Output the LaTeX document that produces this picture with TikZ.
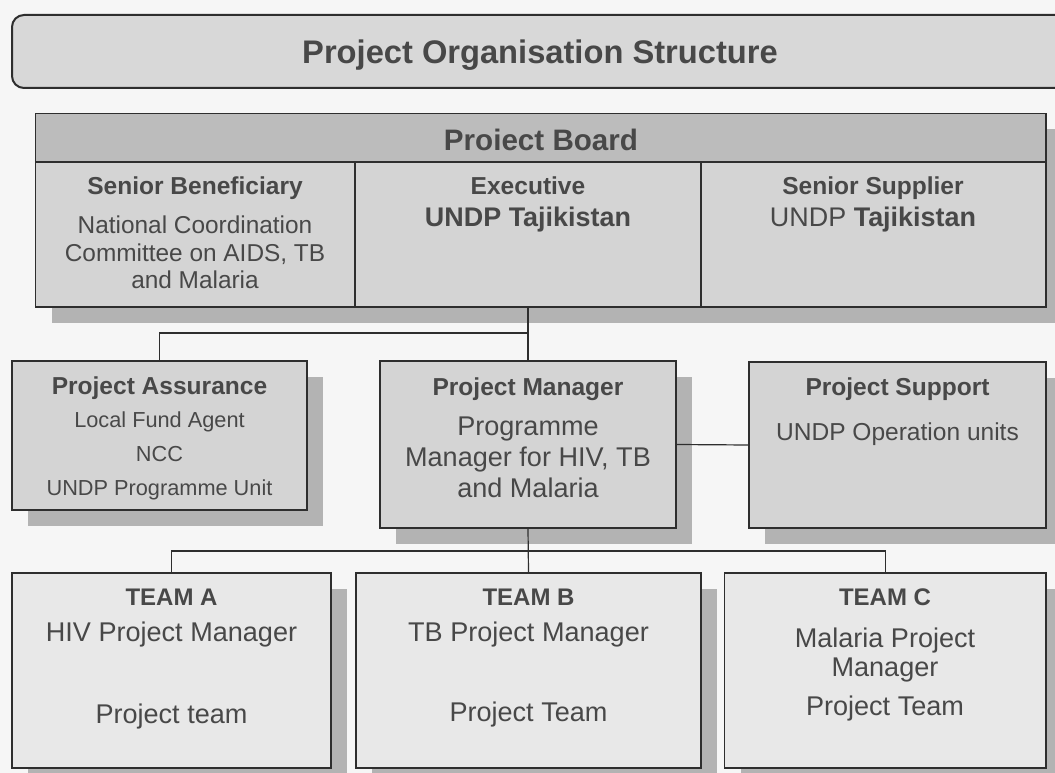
\documentclass[tikz,border=0pt]{standalone}
\usepackage{fontspec}
\setmainfont{Liberation Sans}
\usetikzlibrary{fit,shadows}

\definecolor{ink}{HTML}{484848}
\definecolor{edge}{HTML}{2E2E2E}
\definecolor{paper}{HTML}{F6F6F6}
\definecolor{titlefill}{HTML}{D8D8D8}
\definecolor{bandfill}{HTML}{BCBCBC}
\definecolor{boxfill}{HTML}{D4D4D4}
\definecolor{teamfill}{HTML}{E8E8E8}
\definecolor{shade}{HTML}{B3B3B3}

\tikzset{
  box/.style={draw=edge, line width=1pt, fill=boxfill, inner sep=0pt},
  shadowed/.style={drop shadow={shadow xshift=12pt, shadow yshift=-12pt, fill=shade, opacity=1}},
  link/.style={draw=edge, line width=0.9pt},
  txt/.style={text=ink, inner sep=0pt, align=center},
  headtxt/.style={txt, font=\fontsize{18.4}{22}\selectfont\bfseries},
  bodytxt/.style={txt, font=\fontsize{18.3}{20.6}\selectfont},
  bigtxt/.style={txt, font=\fontsize{20.3}{23.2}\selectfont},
  smalltxt/.style={txt, font=\fontsize{16.3}{25.5}\selectfont},
}

\begin{document}
\begin{tikzpicture}[x=0.75pt,y=-0.75pt]
  % page area
  \clip (0,0) rectangle (1055,773);
  \fill[paper] (0,0) rectangle (1055,773);

  % Title bar
  \node[box, fill=titlefill, line width=1.5pt, rounded corners=9pt, fit={(12,15) (1080,88)}] (title) {};
  \node[txt, font=\fontsize{24.5}{28}\selectfont\bfseries] (titletext) at (540,55) {Project Organisation Structure};

  % Board with its three seats
  \node[box, shadowed, fit={(35.5,113.5) (1046,307)}] (board) {};
  \node[box, fill=bandfill, fit={(35.5,113.5) (1046,162)}] (band) {};
  \node[box, fit={(35.5,162) (355,307)}] (sb) {};
  \node[box, fit={(355,162) (701,307)}] (exec) {};
  \node[box, fit={(701,162) (1046,307)}] (ss) {};

  \node[txt, font=\fontsize{22.2}{26}\selectfont\bfseries] (bandtext) at (541,140) {Proiect Board};
  \node[headtxt] (sbhead) at (195,188.5) {Senior Beneficiary};
  \node[bodytxt] (sbbody) at (195,252.5) {National Coordination\\Committee on AIDS, TB\\and Malaria};
  \node[headtxt] (exechead) at (528,186) {Executive};
  \node[txt, font=\fontsize{20.2}{24}\selectfont\bfseries] (execbody) at (528,219.5) {UNDP Tajikistan};
  \node[headtxt] (sshead) at (873,188.5) {Senior Supplier};
  \node[txt, font=\fontsize{20.2}{24}\selectfont] (ssbody) at (873,219.5) {UNDP \textbf{Tajikistan}};

  % Middle row
  \node[box, shadowed, fit={(12,361) (307,510)}] (assur) {};
  \node[box, shadowed, fit={(380,361) (676,528)}] (pm) {};
  \node[box, shadowed, fit={(749,362) (1046,528)}] (ps) {};

  \node[headtxt] (assurhead) at (159.5,388) {Project Assurance};
  \node[smalltxt] (assurbody) at (159.5,456) {Local Fund Agent\\NCC\\UNDP Programme Unit};
  \node[headtxt] (pmhead) at (528,389) {Project Manager};
  \node[bigtxt] (pmbody) at (528,457) {Programme\\Manager for HIV, TB\\and Malaria};
  \node[headtxt] (pshead) at (897.5,389) {Project Support};
  \node[headtxt, font=\fontsize{18.4}{22}\selectfont] (psbody) at (897.5,434) {UNDP Operation units};

  % Teams
  \node[box, shadowed, fill=teamfill, fit={(12,573) (331,768)}] (teama) {};
  \node[box, shadowed, fill=teamfill, fit={(356,573) (701,768)}] (teamb) {};
  \node[box, shadowed, fill=teamfill, fit={(724.5,573) (1046,768)}] (teamc) {};

  \node[headtxt, font=\fontsize{18}{22}\selectfont\bfseries] (teamahead) at (171.5,597) {TEAM A};
  \node[bigtxt] (teamamgr) at (171.5,634) {HIV Project Manager};
  \node[bigtxt] (teamastaff) at (171.5,716) {Project team};
  \node[headtxt, font=\fontsize{18}{22}\selectfont\bfseries] (teambhead) at (528.5,597) {TEAM B};
  \node[bigtxt] (teambmgr) at (528.5,634) {TB Project Manager};
  \node[bigtxt] (teambstaff) at (528.5,714) {Project Team};
  \node[headtxt, font=\fontsize{18}{22}\selectfont\bfseries] (teamchead) at (885,597) {TEAM C};
  \node[bigtxt, font=\fontsize{20.3}{22}\selectfont] (teamcmgr) at (885,655) {Malaria Project\\Manager};
  \node[bigtxt] (teamcstaff) at (885,708) {Project Team};

  % Connectors
  \coordinate (boardjoin) at (528,333);
  \coordinate (teamjoin) at (528,551);
  \draw[link] (exec.south) -- (pm.north);
  \draw[link] (assur.north) |- (boardjoin);
  \draw[link] (pm.east) -- (ps.west);
  \draw[link] (pm.south) -- (teamb.north);
  \draw[link] (teama.north) |- (teamjoin) -| (teamc.north);
\end{tikzpicture}
\end{document}
